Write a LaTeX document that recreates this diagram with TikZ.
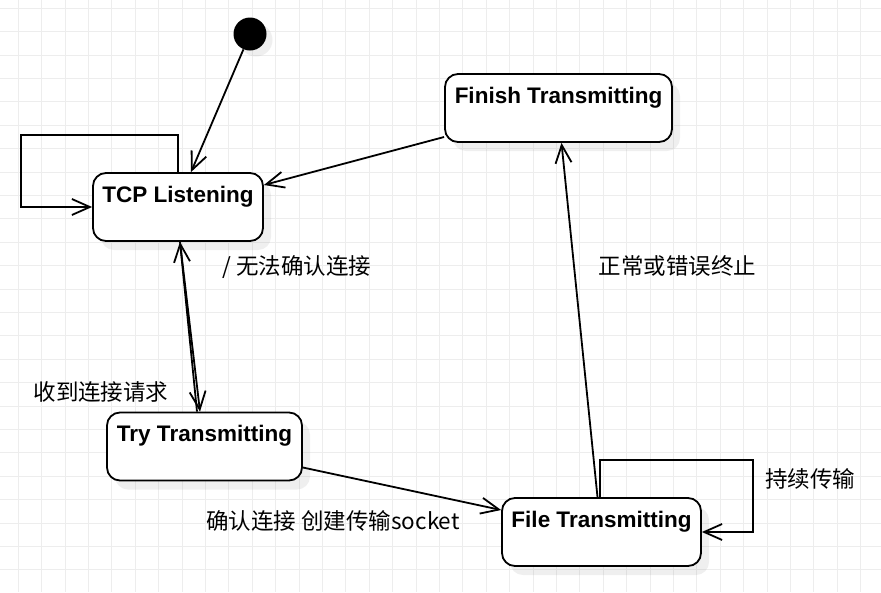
\documentclass[tikz,border=0pt]{standalone}
\usepackage{fontspec}
\setmainfont{Liberation Sans}
\newfontfamily\cjk{Noto Sans CJK SC}
\usetikzlibrary{arrows.meta,shadows}

\begin{document}
\begin{tikzpicture}[x=1pt,y=-1pt,
    >={Straight Barb[length=18pt,width=16pt]},
    stbox/.style={draw, line width=1.8pt, rounded corners=13pt, fill=white,
      font=\fontsize{22.5}{26}\selectfont\bfseries,
      inner xsep=0pt, inner ysep=13pt, text height=16pt, text depth=26pt,
      drop shadow={shadow xshift=8pt, shadow yshift=-9pt, opacity=0.12}},
    trans/.style={->, line width=1.8pt},
    note/.style={font=\cjk\fontsize{22.5}{26}\selectfont, inner sep=0pt},
    gridline/.style={draw=black!7, line width=1pt},
  ]
        \fill[white] (0,0) rectangle (881,592);
        \useasboundingbox (0,0) rectangle (881,592);
        \foreach \gx in {0,...,36} \draw[gridline] (18.3+23.4*\gx,0) -- (18.3+23.4*\gx,592);
        \foreach \gy in {0,...,24} \draw[gridline] (0,8.3+23.4*\gy) -- (881,8.3+23.4*\gy);

        \node[circle, fill=black, minimum size=33pt, inner sep=0pt,
          drop shadow={shadow xshift=6pt, shadow yshift=-6pt, opacity=0.12}] (init) at (250,34) {};
        \node[stbox, minimum width=170pt] (tcp) at (178,207) {TCP Listening};
        \node[stbox, minimum width=227pt] (finish) at (558.5,108) {Finish Transmitting};
        \node[stbox, minimum width=195pt] (try) at (204.5,446.5) {Try Transmitting};
        \node[stbox, minimum width=199pt] (file) at (601.5,532) {File Transmitting};

        \node[note] (lblfail) at (297,267) {/ 无法确认连接};
        \node[note] (lblend) at (677.5,266) {正常或错误终止};
        \node[note] (lblreq) at (101,392) {收到连接请求};
        \node[note] (lblok) at (333,521) {确认连接 创建传输socket};
        \node[note] (lblkeep) at (810,479) {持续传输};

        \draw[trans] (init) -- ([xshift=13pt]tcp.north);
        \draw[trans] (tcp.north) -- ++(0,-37) -| ([xshift=-71pt]tcp.west) -- (tcp.west);
        \draw[trans] ([yshift=-29pt]finish.west) -- ([yshift=22pt]tcp.east);
        \draw[trans] ([xshift=2pt]tcp.south) -- ([xshift=-4.5pt]try.north);
        \draw[trans] ([xshift=-7.5pt]try.north) -- ([xshift=2pt]tcp.south);
        \draw[trans] ([yshift=-21pt]try.east) -- ([yshift=22pt]file.west);
        \draw[trans] ([xshift=-4pt]file.north) -- ([xshift=3pt]finish.south);
        \draw[trans] ([xshift=-1.5pt]file.north) -- ++(0,-37) -| ([xshift=51pt]file.east) -- (file.east);
      \end{tikzpicture}
\end{document}
